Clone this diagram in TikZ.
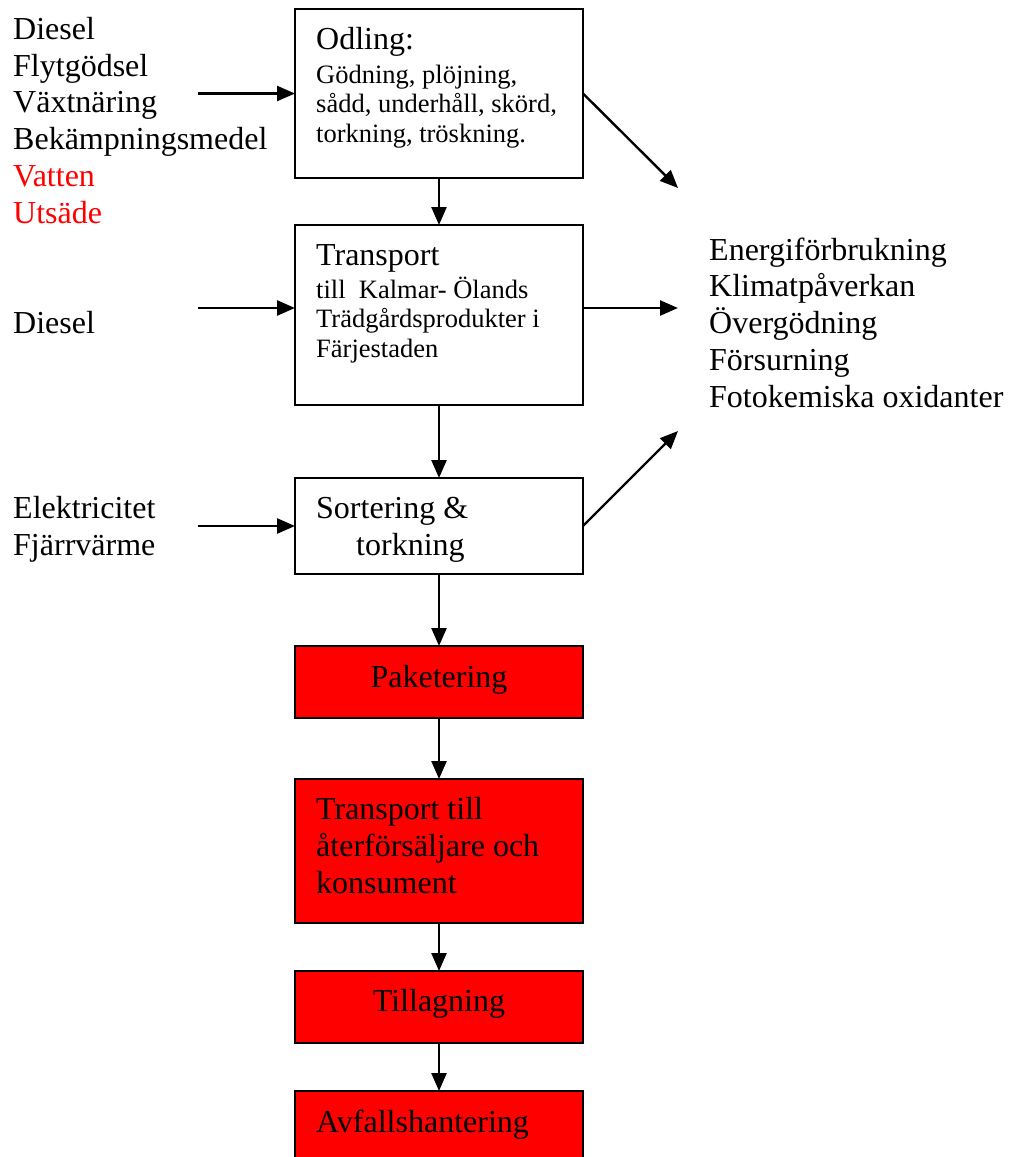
\documentclass[tikz,border=0pt]{standalone}
\usepackage{fontspec}
\setmainfont{Liberation Serif}
\usetikzlibrary{arrows.meta}
\begin{document}
\begin{tikzpicture}[x=1pt,y=-1pt,
  box/.style={draw, line width=1.5pt, minimum width=288pt, inner sep=0pt, outer sep=0pt},
  redbox/.style={box, fill=red},
  big/.style={font=\fontsize{32}{36.7}\selectfont, inner sep=0pt, align=left, anchor=base west},
  small/.style={font=\fontsize{26.5}{29.5}\selectfont, inner sep=0pt, align=left, anchor=base west},
  flow/.style={line width=2.4pt, -{Triangle[length=18pt,width=15pt]}}]
\useasboundingbox (0,0) rectangle (1010,1157);

% boxes
\node[box, minimum height=169pt] (odling) at (439,93.5) {};
\node[box, minimum height=180pt] (transport) at (439,315) {};
\node[box, minimum height=96pt] (sort) at (439,526) {};
\node[redbox, minimum height=72pt] (paket) at (439,682) {};
\node[redbox, minimum height=144pt] (trans2) at (439,851) {};
\node[redbox, minimum height=72pt] (till) at (439,1007) {};
\node[redbox, minimum height=84pt] (avfall) at (439,1133) {};

% box texts (base anchor of a multi-line node = baseline of its last line)
\node[big] (odlingH) at (316,49) {Odling:};
\node[small] (odlingT) at (316,142) {Gödning, plöjning,\\sådd, underhåll, skörd,\\torkning, tröskning.};
\node[big] (transH) at (316,265) {Transport};
\node[small] (transT) at (316,357) {till\ \ Kalmar- Ölands\\Trädgårdsprodukter i\\Färjestaden};
\node[big] (sortT) at (316,555) {Sortering \&\\\hspace*{40pt}torkning};
\node[big, anchor=base] (paketT) at (439,687) {Paketering};
\node[big] (trans2T) at (316,893) {Transport till\\återförsäljare och\\konsument};
\node[big, anchor=base] (tillT) at (439,1011) {Tillagning};
\node[big] (avfallT) at (316,1132) {Avfallshantering};

% inputs
\node[big] (in1) at (13,223) {Diesel\\Flytgödsel\\Växtnäring\\Bekämpningsmedel\\\textcolor{red}{Vatten}\\\textcolor{red}{Utsäde}};
\node[big] (in2) at (13,333) {Diesel};
\node[big] (in3) at (13,555) {Elektricitet\\Fjärrvärme};

% outputs
\node[big] (out) at (709,407) {Energiförbrukning\\Klimatpåverkan\\Övergödning\\Försurning\\Fotokemiska oxidanter};

% arrow ends
\coordinate (a1) at (198,93.5);
\coordinate (a2) at (198,308);
\coordinate (a3) at (198,526);
\coordinate (o1) at (678,188);
\coordinate (o2) at (678,308);
\coordinate (o3) at (678,431);

\draw[flow] (a1) -- (odling.west);
\draw[flow] (a2) -- (a2 -| transport.west);
\draw[flow] (a3) -- (sort.west);
\draw[flow] (odling.east) -- (o1);
\draw[flow] (o2 -| transport.east) -- (o2);
\draw[flow] (sort.east) -- (o3);

\draw[flow] (odling) -- (transport);
\draw[flow] (transport) -- (sort);
\draw[flow] (sort) -- (paket);
\draw[flow] (paket) -- (trans2);
\draw[flow] (trans2) -- (till);
\draw[flow] (till) -- (avfall);
\end{tikzpicture}
\end{document}
